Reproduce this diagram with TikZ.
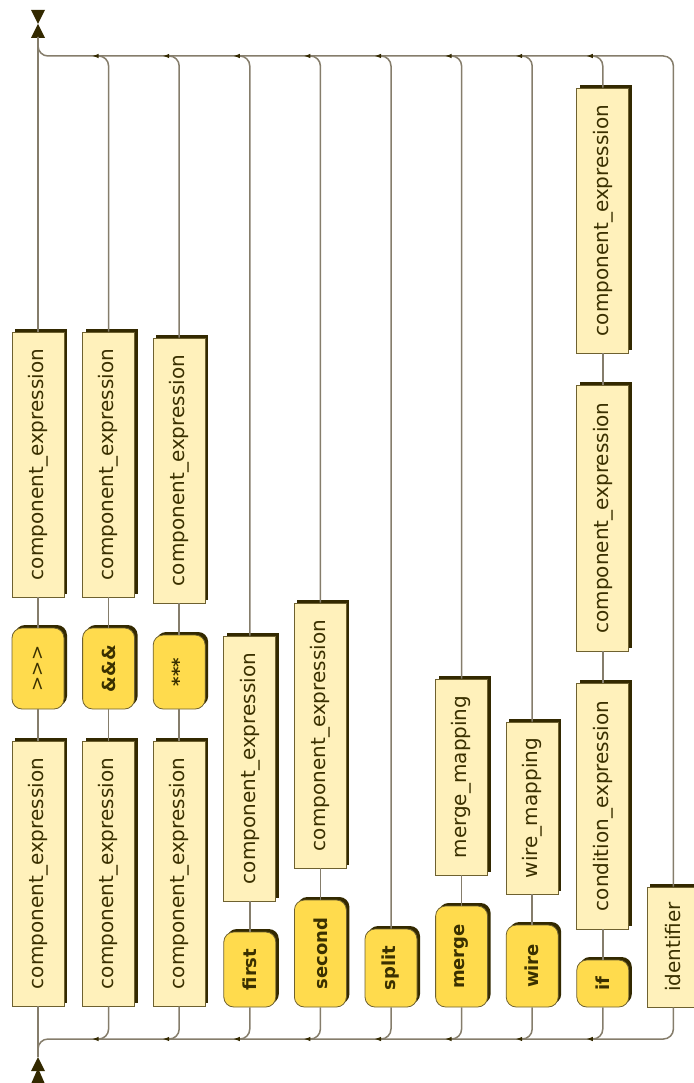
\documentclass[tikz,border=0pt]{standalone}
\usepackage{fontspec}
\setmainfont{DejaVu Sans}
\usetikzlibrary{arrows.meta,shadows}

\definecolor{railc}{HTML}{857D6B}
\definecolor{boxc}{HTML}{6E6130}
\definecolor{shadc}{HTML}{332900}
\definecolor{ntfill}{HTML}{FFF1BB}
\definecolor{kwfill}{HTML}{FFDB4D}
\definecolor{txtc}{HTML}{3A3000}

\begin{document}
\begin{tikzpicture}[x=1pt,y=-1pt,font=\fontsize{20}{24}\selectfont,
  >={Latex[length=7pt,width=4.5pt,color=shadc]},
  rail/.style={draw=railc,line width=1.5pt,rounded corners=10pt},
  nt/.style={draw=boxc,fill=ntfill,line width=0.8pt,rotate=90,inner sep=0pt,minimum height=52pt,text=txtc,
    general shadow={fill=shadc,shadow xshift=3pt,shadow yshift=3pt}},
  kw/.style={nt,fill=kwfill,rounded corners=10pt,font=\fontsize{18}{22}\selectfont\bfseries}]
\useasboundingbox (0,0) rectangle (693,1083);
% start and end marks
\coordinate (startpt) at (38,1057);
\coordinate (endpt) at (38,37);
\fill[shadc] (31,1071) -- (45,1071) -- (38,1057) -- cycle;
\fill[shadc] (31,1084) -- (45,1084) -- (38,1068) -- cycle;
\fill[shadc] (31,10) -- (45,10) -- (38,24) -- cycle;
\fill[shadc] (31,38) -- (45,38) -- (38,24) -- cycle;
\coordinate (tl) at (38,56);
\coordinate (bl) at (38,1039);
% >>>
\node[nt,minimum width=265pt] (ce11) at (38,873.5) {component\_expression};
\node[kw,minimum width=81pt,font=\fontsize{18}{22}\selectfont] (op1) at (38,668.5) {>{}>{}>};
\node[nt,minimum width=265pt] (ce12) at (38,464.5) {component\_expression};
% &&&
\node[nt,minimum width=265pt] (ce21) at (108.6,873.5) {component\_expression};
\node[kw,minimum width=81pt] (op2) at (108.6,668.5) {\&\&\&};
\node[nt,minimum width=265pt] (ce22) at (108.6,464.5) {component\_expression};
% ***
\node[nt,minimum width=265pt] (ce31) at (179.2,873.5) {component\_expression};
\node[kw,minimum width=74pt] (op3) at (179.2,672) {***};
\node[nt,minimum width=265pt] (ce32) at (179.2,470.5) {component\_expression};
% first, second, split
\node[kw,minimum width=75pt] (kfirst) at (249.8,969.5) {first};
\node[nt,minimum width=265pt] (ce4) at (249.8,768.5) {component\_expression};
\node[kw,minimum width=107pt] (ksecond) at (320.4,953.5) {second};
\node[nt,minimum width=265pt] (ce5) at (320.4,735.5) {component\_expression};
\node[kw,minimum width=78pt] (ksplit) at (391,968) {split};
% merge, wire
\node[kw,minimum width=101pt] (kmerge) at (461.6,956.5) {merge};
\node[nt,minimum width=196pt] (mmap) at (461.6,777) {merge\_mapping};
\node[kw,minimum width=82pt] (kwire) at (532.2,966) {wire};
\node[nt,minimum width=172pt] (wmap) at (532.2,808) {wire\_mapping};
% if
\node[kw,minimum width=47pt] (kif) at (602.8,983.5) {if};
\node[nt,minimum width=246pt] (cond) at (602.8,806) {condition\_expression};
\node[nt,minimum width=266pt] (ce91) at (602.8,518) {component\_expression};
\node[nt,minimum width=265pt] (ce92) at (602.8,220.5) {component\_expression};
% identifier
\node[nt,minimum width=120pt] (ident) at (673.4,947) {identifier};

% main line
\draw[rail] (startpt) -- (ce11.west);
\draw[rail] (ce11.east) -- (op1.west);
\draw[rail] (op1.east) -- (ce12.west);
\draw[rail] (ce12.east) -- (endpt);
\draw[rail] (startpt) -- (bl) -| (ident.west);
\draw[rail] (ident.east) |- (tl) -- (endpt);
% inner links
\draw[rail] (ce21.east) -- (op2.west);
\draw[rail] (op2.east) -- (ce22.west);
\draw[rail] (ce31.east) -- (op3.west);
\draw[rail] (op3.east) -- (ce32.west);
\draw[rail] (kfirst.east) -- (ce4.west);
\draw[rail] (ksecond.east) -- (ce5.west);
\draw[rail] (kmerge.east) -- (mmap.west);
\draw[rail] (kwire.east) -- (wmap.west);
\draw[rail] (kif.east) -- (cond.west);
\draw[rail] (cond.east) -- (ce91.west);
\draw[rail] (ce91.east) -- (ce92.west);
% branch points
\coordinate (b2) at (91.6,1039);  \coordinate (t2) at (91.6,56);
\coordinate (b3) at (162.2,1039); \coordinate (t3) at (162.2,56);
\coordinate (b4) at (232.8,1039); \coordinate (t4) at (232.8,56);
\coordinate (b5) at (303.4,1039); \coordinate (t5) at (303.4,56);
\coordinate (b6) at (374,1039);   \coordinate (t6) at (374,56);
\coordinate (b7) at (444.6,1039); \coordinate (t7) at (444.6,56);
\coordinate (b8) at (515.2,1039); \coordinate (t8) at (515.2,56);
\coordinate (b9) at (585.8,1039); \coordinate (t9) at (585.8,56);
% lanes in
\draw[rail,<-] (b2) -| (ce21.west);
\draw[rail,<-] (b3) -| (ce31.west);
\draw[rail,<-] (b4) -| (kfirst.west);
\draw[rail,<-] (b5) -| (ksecond.west);
\draw[rail,<-] (b6) -| (ksplit.west);
\draw[rail,<-] (b7) -| (kmerge.west);
\draw[rail,<-] (b8) -| (kwire.west);
\draw[rail,<-] (b9) -| (kif.west);
% lanes out
\draw[rail,->] (ce22.east) |- (t2);
\draw[rail,->] (ce32.east) |- (t3);
\draw[rail,->] (ce4.east) |- (t4);
\draw[rail,->] (ce5.east) |- (t5);
\draw[rail,->] (ksplit.east) |- (t6);
\draw[rail,->] (mmap.east) |- (t7);
\draw[rail,->] (wmap.east) |- (t8);
\draw[rail,->] (ce92.east) |- (t9);
\end{tikzpicture}
\end{document}
